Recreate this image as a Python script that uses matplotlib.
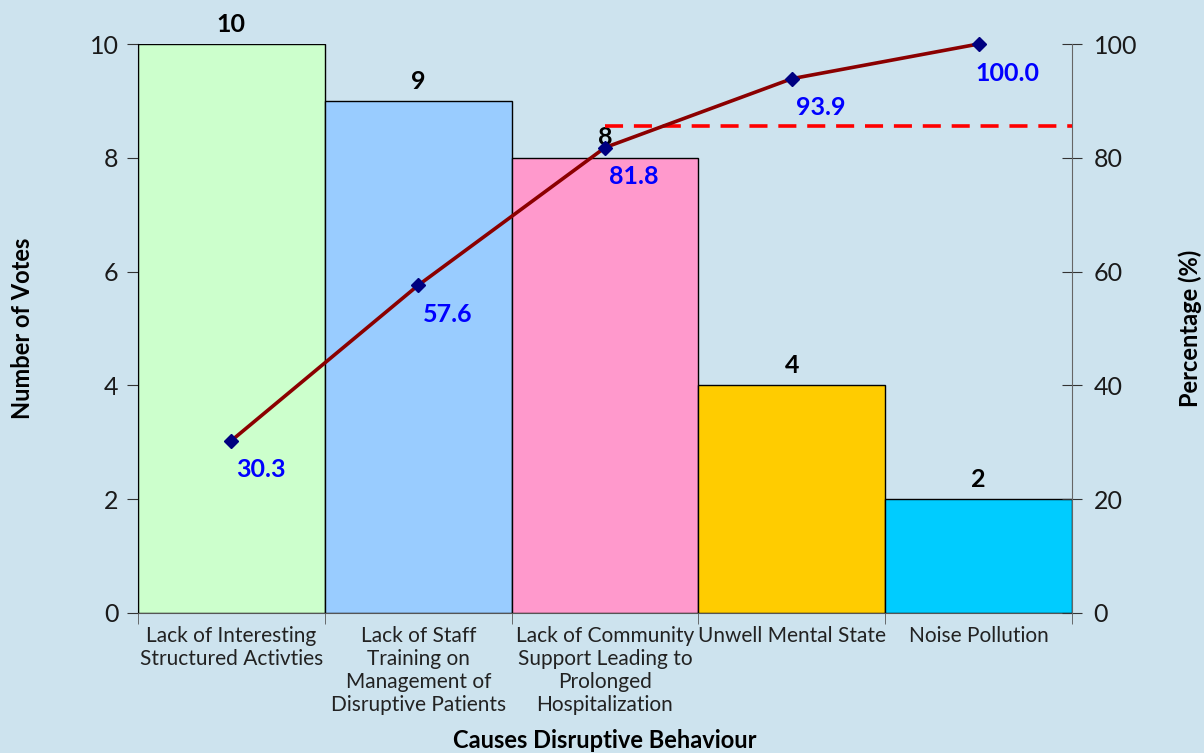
import matplotlib.pyplot as plt
import numpy as np

causes = ["Lack of Interesting\nStructured Activties",
          "Lack of Staff\nTraining on\nManagement of\nDisruptive Patients",
          "Lack of Community\nSupport Leading to\nProlonged\nHospitalization",
          "Unwell Mental State",
          "Noise Pollution"]
votes = [10, 9, 8, 4, 2]
cum_pct = [30.3, 57.6, 81.8, 93.9, 100.0]
cutoff_pct = 85.6
bar_colors = ["#ccffcc", "#99ccff", "#ff99cc", "#ffcc00", "#00ccff"]

bg = "#cde3ee"
plt.rcParams['font.family'] = ['Lato', 'DejaVu Sans']

fig = plt.figure(figsize=(12.04, 7.53), dpi=100, facecolor=bg)
ax = fig.add_axes([138/1204, 1 - 613/753, (1072-138)/1204, (613-44)/753])
ax.set_facecolor(bg)

x = np.arange(len(votes))
ax.bar(x, votes, width=1.0, color=bar_colors, edgecolor="black", linewidth=1.0, zorder=2)
for xi, v in zip(x, votes):
    ax.annotate(str(v), (xi, v), xytext=(0, 6), textcoords="offset points",
                ha="center", va="bottom", fontsize=18, fontweight="bold", color="black",
                zorder=5, annotation_clip=False)

ax.set_xlim(-0.5, 4.5)
ax.set_ylim(0, 10)
ax.set_yticks(range(0, 11, 2))
ax.set_xticks(x)
ax.set_xticklabels(causes, fontsize=15, color="#222222", linespacing=1.2)
ax.set_xticks(np.arange(-0.5, 5, 1), minor=True)
ax.tick_params(axis="x", which="major", length=0, pad=9)
ax.tick_params(axis="x", which="minor", length=8, color="#555555", direction="out")
ax.tick_params(axis="y", length=8, direction="out", labelsize=18, pad=6, color="#333333",
               labelcolor="#1a1a1a")
for s in ["top", "right"]:
    ax.spines[s].set_visible(False)
ax.spines["left"].set_color("black")
ax.spines["bottom"].set_color("#555555")
ax.set_ylabel("Number of Votes", fontsize=17, fontweight="bold", labelpad=40)
ax.set_xlabel("Causes Disruptive Behaviour", fontsize=17, fontweight="bold", labelpad=10)

ax2 = ax.twinx()
ax2.set_ylim(0, 100)
ax2.set_yticks(range(0, 101, 20))
ax2.tick_params(axis="y", length=15, direction="inout", labelsize=18, pad=8, color="#333333",
                labelcolor="#1a1a1a")
for s in ["top", "left", "bottom"]:
    ax2.spines[s].set_visible(False)
ax2.spines["right"].set_color("#666666")
ax2.set_ylabel("Percentage (%)", fontsize=17, fontweight="bold", labelpad=30)

ax2.plot(x, cum_pct, color="#8b0000", linewidth=2.6, marker="D", markersize=7,
         markerfacecolor="#000080", markeredgecolor="#000080", zorder=4, clip_on=False)
ax2.plot([2, 4.5], [cutoff_pct, cutoff_pct], color="#ff0000", linewidth=2.6,
         linestyle=(0, (5, 3)), zorder=3)
for xi, p in zip(x, cum_pct):
    ax2.annotate(f"{p:.1f}", (xi, p), xytext=(21, -21), textcoords="offset points",
                 ha="center", va="center", fontsize=18, fontweight="bold", color="#0000ff",
                 zorder=6, annotation_clip=False)

fig.savefig("out.png", dpi=100, facecolor=bg)
